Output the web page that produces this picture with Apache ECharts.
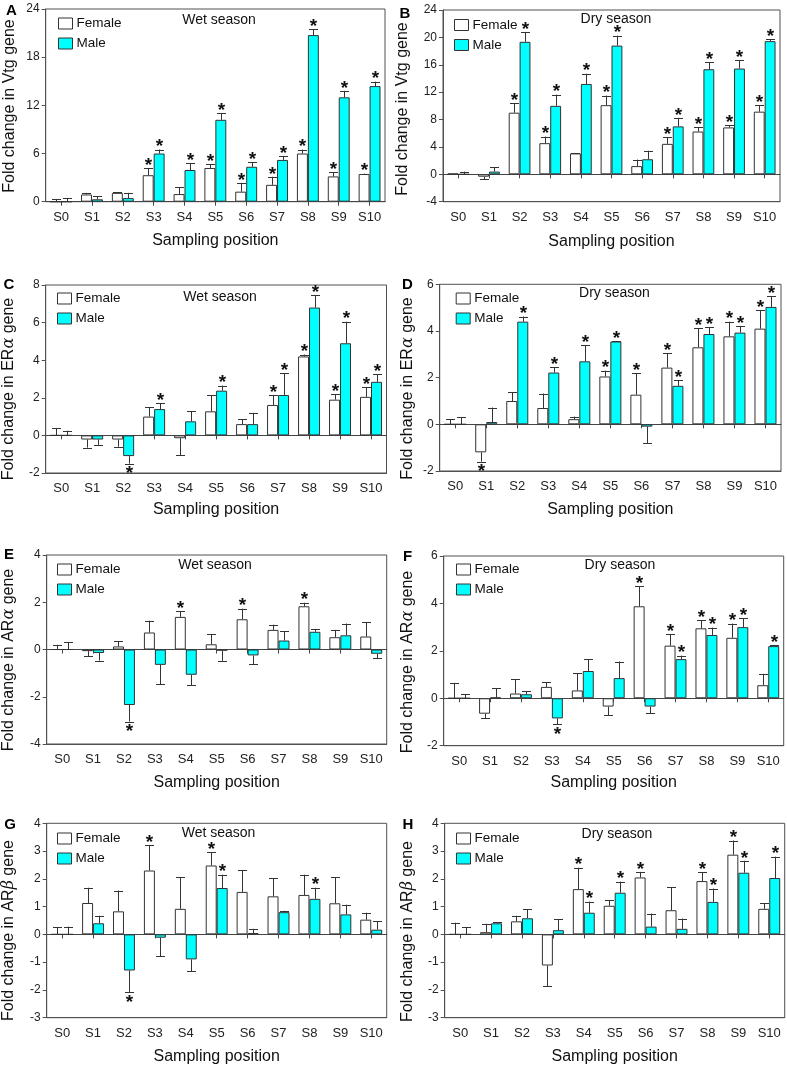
<!DOCTYPE html>
<html>
<head>
<meta charset="utf-8">
<script src="https://cdn.jsdelivr.net/npm/echarts@6/dist/echarts.min.js"></script>
<style>
html,body{margin:0;padding:0;background:#fff;}
#chart{width:787px;height:1067px;}
</style>
</head>
<body>
<div id="chart"></div>
<script>
// ---------- DATA ----------
const categories = ['S0','S1','S2','S3','S4','S5','S6','S7','S8','S9','S10'];

// A: Vtg, wet season
const vtgWetFemale    = [0, 0.9, 1.1, 3.3, 0.95, 4.2, 1.25, 2.1, 6.0, 3.15, 3.45];
const vtgWetFemaleSD  = [0.3, 0.2, 0.05, 0.85, 0.85, 0.45, 1.1, 1.0, 0.5, 0.5, 0.05];
const vtgWetMale      = [0, 0.3, 0.45, 6.0, 3.95, 10.2, 4.35, 5.2, 20.75, 13.0, 14.4];
const vtgWetMaleSD    = [0.4, 0.4, 0.65, 0.5, 0.85, 0.8, 0.55, 0.5, 0.75, 0.8, 0.55];
const vtgWetFemaleSig = [0,0,0,1,0,1,1,1,1,1,1];
const vtgWetMaleSig   = [0,0,0,1,1,1,1,1,1,1,1];

// B: Vtg, dry season
const vtgDryFemale    = [0.1, -0.35, 9.0, 4.55, 3.05, 10.1, 1.2, 4.45, 6.25, 6.85, 9.15];
const vtgDryFemaleSD  = [0, 0.35, 1.4, 0.95, 0.05, 1.4, 0.95, 1.0, 0.6, 0.35, 0.95];
const vtgDryMale      = [0, 0.4, 19.35, 10.0, 13.2, 18.8, 2.2, 7.0, 15.35, 15.45, 19.45];
const vtgDryMaleSD    = [0.4, 0.6, 1.45, 1.65, 1.5, 1.45, 1.25, 1.25, 1.05, 1.25, 0.3];
const vtgDryFemaleSig = [0,0,1,1,0,1,0,1,1,1,1];
const vtgDryMaleSig   = [0,0,1,1,1,1,0,1,1,1,1];

// C: ERα, wet season
const eraWetFemale    = [0, -0.22, -0.22, 1.0, -0.15, 1.28, 0.6, 1.62, 4.2, 1.9, 2.05];
const eraWetFemaleSD  = [0.37, 0.43, 0.38, 0.5, 0.9, 0.87, 0.27, 0.53, 0.1, 0.3, 0.5];
const eraWetMale      = [0, -0.22, -1.1, 1.4, 0.75, 2.38, 0.6, 2.15, 6.8, 4.9, 2.85];
const eraWetMaleSD    = [0.25, 0.28, 0.4, 0.32, 0.53, 0.27, 0.6, 1.15, 0.65, 1.15, 0.4];
const eraWetFemaleSig = [0,0,0,0,0,0,0,1,1,1,1];
const eraWetMaleSig   = [0,0,1,1,0,1,0,1,1,1,1];

// D: ERα, dry season
const eraDryFemale    = [0, -1.2, 1.0, 0.7, 0.22, 2.05, 1.27, 2.43, 3.3, 3.77, 4.1];
const eraDryFemaleSD  = [0.22, 0.4, 0.38, 0.62, 0.11, 0.25, 0.93, 0.62, 0.82, 0.63, 0.8];
const eraDryMale      = [0, 0.1, 4.4, 2.22, 2.7, 3.55, -0.1, 1.65, 3.87, 3.93, 5.03];
const eraDryMaleSD    = [0.3, 0.62, 0.22, 0.23, 0.68, 0.02, 0.7, 0.23, 0.28, 0.29, 0.47];
const eraDryFemaleSig = [0,1,0,0,0,1,1,1,1,1,1];
const eraDryMaleSig   = [0,0,1,1,1,1,0,1,1,1,1];

// E: ARα, wet season
const araWetFemale    = [0, -0.07, 0.13, 0.72, 1.38, 0.22, 1.28, 0.83, 1.83, 0.52, 0.55];
const araWetFemaleSD  = [0.2, 0.21, 0.22, 0.5, 0.25, 0.43, 0.45, 0.22, 0.15, 0.31, 0.6];
const araWetMale      = [0, -0.15, -2.35, -0.65, -1.07, -0.05, -0.25, 0.38, 0.75, 0.6, -0.18];
const araWetMaleSD    = [0.32, 0.32, 0.7, 0.83, 0.45, 0.43, 0.37, 0.39, 0.1, 0.5, 0.2];
const araWetFemaleSig = [0,0,0,0,1,0,1,0,1,0,0];
const araWetMaleSig   = [0,0,1,0,0,0,0,0,0,0,0];

// F: ARα, dry season
const araDryFemale    = [0, -0.65, 0.2, 0.48, 0.33, -0.35, 3.88, 2.22, 2.95, 2.55, 0.55];
const araDryFemaleSD  = [0.65, 0.2, 0.6, 0.2, 0.72, 0.37, 0.84, 0.48, 0.33, 0.6, 0.48];
const araDryMale      = [0, 0.03, 0.17, -0.85, 1.15, 0.85, -0.35, 1.65, 2.67, 3.0, 2.2];
const araDryMaleSD    = [0.17, 0.39, 0.13, 0.25, 0.5, 0.7, 0.28, 0.15, 0.31, 0.38, 0.05];
const araDryFemaleSig = [0,0,0,0,0,0,1,1,1,1,0];
const araDryMaleSig   = [0,0,0,1,0,0,0,1,1,1,1];

// G: ARβ, wet season
const arbWetFemale    = [0, 1.13, 0.83, 2.3, 0.92, 2.48, 1.53, 1.37, 1.42, 1.12, 0.53];
const arbWetFemaleSD  = [0.25, 0.55, 0.75, 0.92, 1.15, 0.47, 0.79, 0.65, 0.73, 0.93, 0.25];
const arbWetMale      = [0, 0.4, -1.3, -0.12, -0.9, 1.67, 0.05, 0.8, 1.28, 0.72, 0.17];
const arbWetMaleSD    = [0.28, 0.27, 0.78, 0.66, 0.43, 0.48, 0.15, 0.05, 0.4, 0.35, 0.3];
const arbWetFemaleSig = [0,0,0,1,0,1,0,0,0,0,0];
const arbWetMaleSig   = [0,0,1,0,0,1,0,0,1,0,0];

// H: ARβ, dry season
const arbDryFemale    = [0, 0.08, 0.47, -1.12, 1.63, 1.03, 2.05, 0.87, 1.92, 2.87, 0.92];
const arbDryFemaleSD  = [0.42, 0.3, 0.2, 0.75, 0.77, 0.2, 0.2, 0.83, 0.31, 0.51, 0.2];
const arbDryMale      = [0, 0.4, 0.58, 0.15, 0.78, 1.5, 0.28, 0.2, 1.17, 2.22, 2.03];
const arbDryMaleSD    = [0.25, 0.03, 0.32, 0.4, 0.4, 0.4, 0.47, 0.37, 0.48, 0.43, 0.77];
const arbDryFemaleSig = [0,0,0,0,1,0,1,0,1,1,0];
const arbDryMaleSig   = [0,0,0,0,1,1,0,0,1,1,1];

// y-axis ranges [min, max, interval]
const yRangeVtgWet = [0, 24, 6];
const yRangeVtgDry = [-4, 24, 4];
const yRangeEraWet = [-2, 8, 2];
const yRangeEraDry = [-2, 6, 2];
const yRangeAraWet = [-4, 4, 2];
const yRangeAraDry = [-2, 6, 2];
const yRangeArbWet = [-3, 4, 1];
const yRangeArbDry = [-3, 4, 1];

const panelLetters = ['A','B','C','D','E','F','G','H'];
const seasonLabels = ['Wet season','Dry season','Wet season','Dry season','Wet season','Dry season','Wet season','Dry season'];
const geneNames = ['Vtg','Vtg','ER|α','ER|α','AR|α','AR|α','AR|β','AR|β'];
const seriesNames = ['Female','Male'];
const xAxisTitle = 'Sampling position';

// ---------- BUILD ----------
const panels = [
  [vtgWetFemale, vtgWetFemaleSD, vtgWetFemaleSig, vtgWetMale, vtgWetMaleSD, vtgWetMaleSig, yRangeVtgWet],
  [vtgDryFemale, vtgDryFemaleSD, vtgDryFemaleSig, vtgDryMale, vtgDryMaleSD, vtgDryMaleSig, yRangeVtgDry],
  [eraWetFemale, eraWetFemaleSD, eraWetFemaleSig, eraWetMale, eraWetMaleSD, eraWetMaleSig, yRangeEraWet],
  [eraDryFemale, eraDryFemaleSD, eraDryFemaleSig, eraDryMale, eraDryMaleSD, eraDryMaleSig, yRangeEraDry],
  [araWetFemale, araWetFemaleSD, araWetFemaleSig, araWetMale, araWetMaleSD, araWetMaleSig, yRangeAraWet],
  [araDryFemale, araDryFemaleSD, araDryFemaleSig, araDryMale, araDryMaleSD, araDryMaleSig, yRangeAraDry],
  [arbWetFemale, arbWetFemaleSD, arbWetFemaleSig, arbWetMale, arbWetMaleSD, arbWetMaleSig, yRangeArbWet],
  [arbDryFemale, arbDryFemaleSD, arbDryFemaleSig, arbDryMale, arbDryMaleSD, arbDryMaleSig, yRangeArbDry]
];

// layout: [left, top, width, height, yNameX, yNameY, xNameGap, legendLeft, legendTop, seasonX, seasonY, letterX, letterY]
const layout = [
  [45.7, 9,    339.3, 192.7, 9.5, 106,   31, 58,  16.5, 219, 20,  11.5, 11],
  [443,  10,   337,   191.7, 403, 109,   32, 454, 18,   616, 19.5, 405, 14],
  [45.7, 285,  340.8, 188,   9,   389,   29, 57,  291.5, 220, 296.7, 9,  285],
  [439.7,284.3,341.3, 186.7, 408, 388.5, 31, 455.7, 291.5, 614.5, 293.3, 407.5, 285],
  [46.7, 555,  340,   189,   9,   660,   31, 57,  562.5, 215, 565, 9,  555],
  [443.7,556,  340,   189.7, 408, 662,   29, 456, 562.5, 620, 565, 407.5, 556.5],
  [46.7, 823.3,340,   194.4, 9,   930.5, 31, 57,  831.5, 218.5, 833.3, 10, 825],
  [444.7,823.3,340,   194.4, 408, 931.5, 31, 456, 831.5, 617, 834.3, 408, 825]
];

const FONT = '"Liberation Sans", Arial, Helvetica, sans-serif';
const AXIS_COLOR = '#505050';
const BAR_GAP_CAT = 0.29;

function makeErrRender(side) {
  return function (params, api) {
    const i = api.value(0);
    const v = api.value(1);
    const sd = api.value(2);
    const sig = api.value(3);
    const dir = v < 0 ? -1 : 1;
    const base = api.coord([i, v]);
    const end = api.coord([i, v + dir * sd]);
    const band = api.size([1, 0])[0];
    const bw = band * (1 - BAR_GAP_CAT) / 2;
    const x = Math.round(base[0] + side * bw / 2) + 0.5;
    const children = [];
    const st = { stroke: '#333', lineWidth: 1 };
    if (sd > 0) {
      children.push({ type: 'line', shape: { x1: x, y1: base[1], x2: x, y2: end[1] }, style: st });
      const cy = Math.round(end[1]) + 0.5;
      children.push({ type: 'line', shape: { x1: x - 4.5, y1: cy, x2: x + 4.5, y2: cy }, style: st });
    }
    if (sig) {
      children.push({
        type: 'text',
        style: {
          text: '*', x: x, y: end[1] - dir * 6.5 + 4,
          fill: '#111', font: 'bold 19px ' + FONT,
          textAlign: 'center', textVerticalAlign: 'middle'
        }
      });
    }
    return { type: 'group', children: children };
  };
}

const grid = [], xAxis = [], yAxis = [], series = [], legend = [], graphic = [];

panels.forEach((p, k) => {
  const L = layout[k];
  grid.push({ left: L[0], top: L[1], width: L[2], height: L[3], show: true, borderColor: AXIS_COLOR, borderWidth: 1, backgroundColor: 'transparent' });

  xAxis.push({
    gridIndex: k, type: 'category', data: categories, position: 'bottom',
    axisLine: { onZero: false, lineStyle: { color: AXIS_COLOR } },
    axisTick: { show: false },
    axisLabel: { margin: 9, fontSize: 13, color: '#222', fontFamily: FONT, interval: 0 },
    name: xAxisTitle, nameLocation: 'middle', nameGap: L[6],
    nameTextStyle: { fontSize: 16, color: '#111', fontFamily: FONT }
  });
  xAxis.push({
    gridIndex: k, type: 'category', data: categories, position: 'top',
    axisLine: { show: true, onZero: true, lineStyle: { color: '#444' } },
    axisTick: { show: true, inside: true, alignWithLabel: true, length: 4, interval: 0, lineStyle: { color: '#444' } },
    axisLabel: { show: false }
  });

  const yr = p[6];
  yAxis.push({
    gridIndex: k, type: 'value', min: yr[0], max: yr[1], interval: yr[2],
    axisLine: { show: true, lineStyle: { color: AXIS_COLOR } },
    axisTick: { show: true, length: 4, lineStyle: { color: AXIS_COLOR } },
    splitLine: { show: false },
    axisLabel: { fontSize: 12, color: '#222', fontFamily: FONT, margin: 6 }
  });

  const xi = 2 * k;
  series.push({
    type: 'bar', name: seriesNames[0], xAxisIndex: xi, yAxisIndex: k, data: p[0],
    barGap: '0%', barCategoryGap: (BAR_GAP_CAT * 100) + '%',
    itemStyle: { color: '#ffffff', borderColor: '#333', borderWidth: 1 }, z: 2
  });
  series.push({
    type: 'bar', name: seriesNames[1], xAxisIndex: xi, yAxisIndex: k, data: p[3],
    barGap: '0%', barCategoryGap: (BAR_GAP_CAT * 100) + '%',
    itemStyle: { color: '#00FFFF', borderColor: '#333', borderWidth: 1 }, z: 2
  });
  series.push({
    type: 'custom', name: 'errF' + k, xAxisIndex: xi, yAxisIndex: k,
    renderItem: makeErrRender(-1), encode: { x: 0, y: 1 },
    data: p[0].map((v, i) => [i, v, p[1][i], p[2][i]]), z: 3
  });
  series.push({
    type: 'custom', name: 'errM' + k, xAxisIndex: xi, yAxisIndex: k,
    renderItem: makeErrRender(1), encode: { x: 0, y: 1 },
    data: p[3].map((v, i) => [i, v, p[4][i], p[5][i]]), z: 3
  });

  legend.push({
    data: seriesNames, orient: 'vertical', left: L[7], top: L[8], padding: 0,
    itemWidth: 14, itemHeight: 11, itemGap: 6, icon: 'rect', selectedMode: false,
    itemStyle: { borderColor: '#333', borderWidth: 1 },
    textStyle: { fontSize: 13.5, color: '#111', fontFamily: FONT, lineHeight: 11, padding: [0, 0, 0, -1] }
  });

  // y-axis title (rotated), with italic Greek letter where present
  const g = geneNames[k].split('|');
  const yName = g.length > 1
    ? '{t|Fold change in ' + g[0] + '}{g|' + g[1] + '}{t| gene}'
    : '{t|Fold change in ' + g[0] + ' gene}';
  graphic.push({
    type: 'text', x: L[4], y: L[5], rotation: Math.PI / 2,
    style: {
      text: yName, textAlign: 'center', textVerticalAlign: 'middle',
      rich: {
        t: { fontSize: 16, fill: '#111', fontFamily: FONT },
        g: { fontSize: 16, fill: '#111', fontFamily: '"DejaVu Serif", serif', fontStyle: 'italic' }
      }
    }
  });
  graphic.push({
    type: 'text', x: L[9], y: L[10],
    style: { text: seasonLabels[k], font: '14px ' + FONT, fill: '#111', textAlign: 'center', textVerticalAlign: 'middle' }
  });
  graphic.push({
    type: 'text', x: L[11], y: L[12],
    style: { text: panelLetters[k], font: 'bold 15px ' + FONT, fill: '#000', textAlign: 'center', textVerticalAlign: 'middle' }
  });
});

const chart = echarts.init(document.getElementById('chart'), null, { renderer: 'canvas', width: 787, height: 1067 });
chart.setOption({
  backgroundColor: '#ffffff',
  animation: false,
  grid: grid, xAxis: xAxis, yAxis: yAxis, series: series, legend: legend, graphic: graphic
});
</script>
</body>
</html>
